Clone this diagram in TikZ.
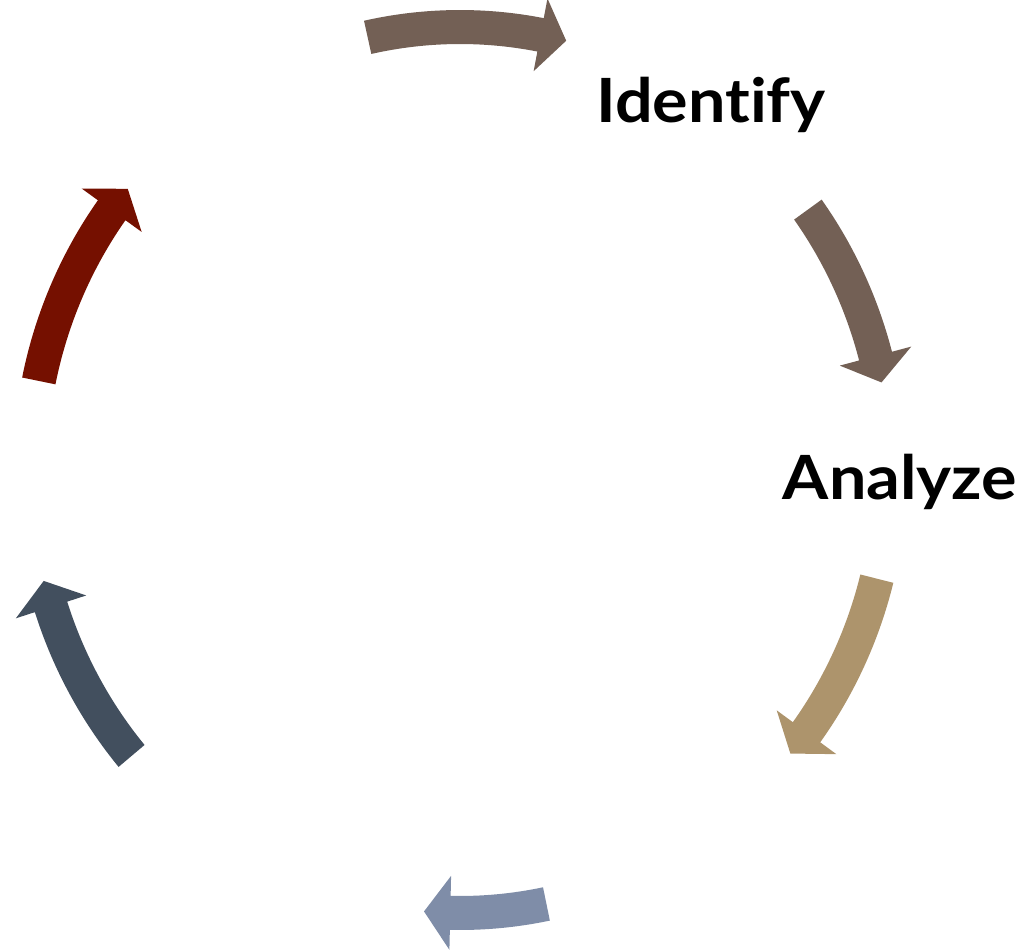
\documentclass[tikz,border=0pt]{standalone}
\usepackage{fontspec}
\setmainfont{Lato}
\newfontfamily\labelfont[FakeStretch=1.09,Ligatures={NoCommon,NoRare}]{Lato}
\usepackage{tikz}
\usetikzlibrary{calc,positioning}

\definecolor{cyctaupe}{HTML}{736055}
\definecolor{cyctan}{HTML}{AD946C}
\definecolor{cycslate}{HTML}{7F8DA8}
\definecolor{cycnavy}{HTML}{424F5E}
\definecolor{cycred}{HTML}{751000}

% ring radii, band and head half widths, head length (deg)
\newcommand{\rx}{430}
\newcommand{\ry}{443}
\newcommand{\bw}{17}
\newcommand{\hw}{37}
\newcommand{\hd}{3.5}

\begin{document}
\begin{tikzpicture}[x=1pt,y=1pt,
    steplabel/.style={font=\labelfont\bfseries\fontsize{61}{72}\selectfont,anchor=base,inner sep=0pt}]
  \useasboundingbox (-460,-480) rectangle (560,470);
  \foreach \a/\b/\c in {102.4/75.7/cyctaupe, 36/11.4/cyctaupe, -14.2/-39.8/cyctan,
      -78.4/-94.8/cycslate, 220.2/194.5/cycnavy, 168.4/140.6/cycred}{
    \fill[\c] ({(\rx+\bw)*cos(\a)},{(\ry+\bw)*sin(\a)})
      arc[start angle=\a, end angle=\b+\hd, x radius=\rx+\bw, y radius=\ry+\bw]
      -- ({(\rx+\hw)*cos(\b+\hd)},{(\ry+\hw)*sin(\b+\hd)})
      -- ({\rx*cos(\b)},{\ry*sin(\b)})
      -- ({(\rx-\hw)*cos(\b+\hd)},{(\ry-\hw)*sin(\b+\hd)})
      -- ({(\rx-\bw)*cos(\b+\hd)},{(\ry-\bw)*sin(\b+\hd)})
      arc[start angle=\b+\hd, end angle=\a, x radius=\rx-\bw, y radius=\ry-\bw]
      -- cycle;
  }
  \node[steplabel] (identify) at (251,347) {Identify};
  \node[steplabel] (analyze) at (440,-30) {Analyze};
\end{tikzpicture}
\end{document}
